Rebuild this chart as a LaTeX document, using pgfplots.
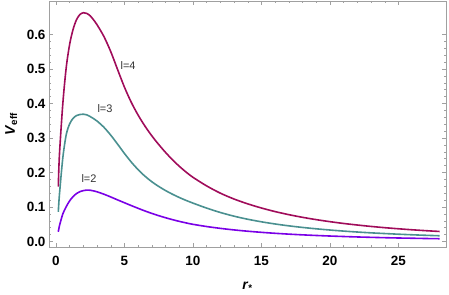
\documentclass[border=0pt]{standalone}
\usepackage{pgfplots}
\pgfplotsset{compat=1.18}
\usepackage{fontspec}
\setmainfont{Liberation Sans}
\definecolor{cfour}{RGB}{160,12,90}
\definecolor{cthree}{RGB}{74,144,144}
\definecolor{ctwo}{RGB}{122,0,230}
\definecolor{framegray}{RGB}{160,160,160}
\begin{document}
\begin{tikzpicture}
\path[use as bounding box] (-49bp,-48bp) rectangle (400bp,247bp);
\begin{axis}[
  scale only axis,
  width=397bp, height=246bp,
  xmin=-0.51, xmax=28.47,
  ymin=-0.016, ymax=0.697,
  xtick={0,5,10,15,20,25},
  ytick={0,0.1,0.2,0.3,0.4,0.5,0.6},
  minor x tick num=4,
  minor y tick num=4,
  tick align=inside,
  major tick length=4.5bp,
  minor tick length=2.5bp,
  axis line style={framegray},
  every tick/.style={framegray},
  every minor tick/.style={framegray},
  /pgf/number format/assume math mode=true,
  yticklabel style={/pgf/number format/fixed,/pgf/number format/fixed zerofill,/pgf/number format/precision=1},
  ticklabel style={font=\fontsize{13.5}{15}\selectfont\bfseries},
  xticklabel style={yshift=-5.5bp},
  xlabel={\textbf{\textit{r}}\textsubscript{\textbf{*}}},
  xlabel style={at={(axis description cs:0.5,0)},anchor=base,yshift=-42bp,font=\fontsize{14}{16}\selectfont},
  ylabel={\textbf{\textit{V}}\textsubscript{\textbf{eff}}},
  ylabel style={at={(axis description cs:0,0.5)},anchor=base,yshift=34bp,font=\fontsize{14}{16}\selectfont},
  clip=true,
]
\addplot[cfour, line width=1.6bp, smooth] coordinates {
(0.17,0.159) (0.25,0.25) (0.5,0.40) (0.75,0.505) (1.0,0.572) (1.25,0.615) (1.5,0.643) (1.75,0.658) (2.0,0.663) (2.25,0.661) (2.5,0.654) (2.75,0.642) (3.0,0.628) (3.5,0.594) (4.0,0.550) (4.5,0.498) (5.0,0.447) (5.5,0.403) (6.0,0.366) (6.5,0.334) (7.0,0.306) (7.5,0.281) (8,0.258) (8.5,0.237) (9,0.218) (9.5,0.201) (10,0.186) (11,0.161) (12,0.140) (13,0.123) (14,0.109) (15,0.097) (16,0.0866) (17,0.0777) (18,0.0700) (19,0.0633) (20,0.0574) (21,0.0522) (22,0.0477) (23,0.0436) (24,0.0400) (25,0.0368) (26,0.0339) (27,0.0313) (28,0.0290)
};
\addplot[cthree, line width=1.6bp, smooth] coordinates {
(0.17,0.086) (0.25,0.135) (0.5,0.243) (0.75,0.310) (1.0,0.341) (1.25,0.357) (1.5,0.365) (1.75,0.368) (2.0,0.369) (2.25,0.367) (2.5,0.362) (2.75,0.356) (3.0,0.349) (3.5,0.331) (4.0,0.308) (4.5,0.282) (5.0,0.255) (5.5,0.230) (6.0,0.208) (6.5,0.189) (7.0,0.173) (7.5,0.1595) (8,0.1475) (8.5,0.137) (9,0.1275) (9.5,0.119) (10,0.1112) (11,0.0967) (12,0.0840) (13,0.0733) (14,0.0644) (15,0.0570) (16,0.0507) (17,0.0453) (18,0.0407) (19,0.0367) (20,0.0332) (21,0.0301) (22,0.0274) (23,0.0250) (24,0.0230) (25,0.0211) (26,0.0194) (27,0.0179) (28,0.0166)
};
\addplot[ctwo, line width=1.6bp, smooth] coordinates {
(0.17,0.028) (0.25,0.045) (0.5,0.080) (0.75,0.101) (1.0,0.118) (1.25,0.130) (1.5,0.139) (1.75,0.1445) (2.0,0.1475) (2.25,0.149) (2.5,0.1485) (2.75,0.1466) (3.0,0.144) (3.5,0.137) (4.0,0.129) (4.5,0.1205) (5.0,0.1122) (5.5,0.1040) (6.0,0.0960) (6.5,0.0884) (7.0,0.0813) (7.5,0.0748) (8,0.0688) (8.5,0.0633) (9,0.0583) (9.5,0.0538) (10,0.0497) (11,0.0433) (12,0.0380) (13,0.0335) (14,0.0297) (15,0.0265) (16,0.0237) (17,0.0213) (18,0.0192) (19,0.0174) (20,0.0158) (21,0.0144) (22,0.0131) (23,0.0120) (24,0.0110) (25,0.0101) (26,0.0094) (27,0.0086) (28,0.0080)
};
\node[font=\fontsize{11}{13}\selectfont, text=black!80] at (axis cs:5.26,0.509) {l=4};
\node[font=\fontsize{11}{13}\selectfont, text=black!80] at (axis cs:3.58,0.384) {l=3};
\node[font=\fontsize{11}{13}\selectfont, text=black!80] at (axis cs:2.41,0.182) {l=2};
\end{axis}
\end{tikzpicture}
\end{document}
